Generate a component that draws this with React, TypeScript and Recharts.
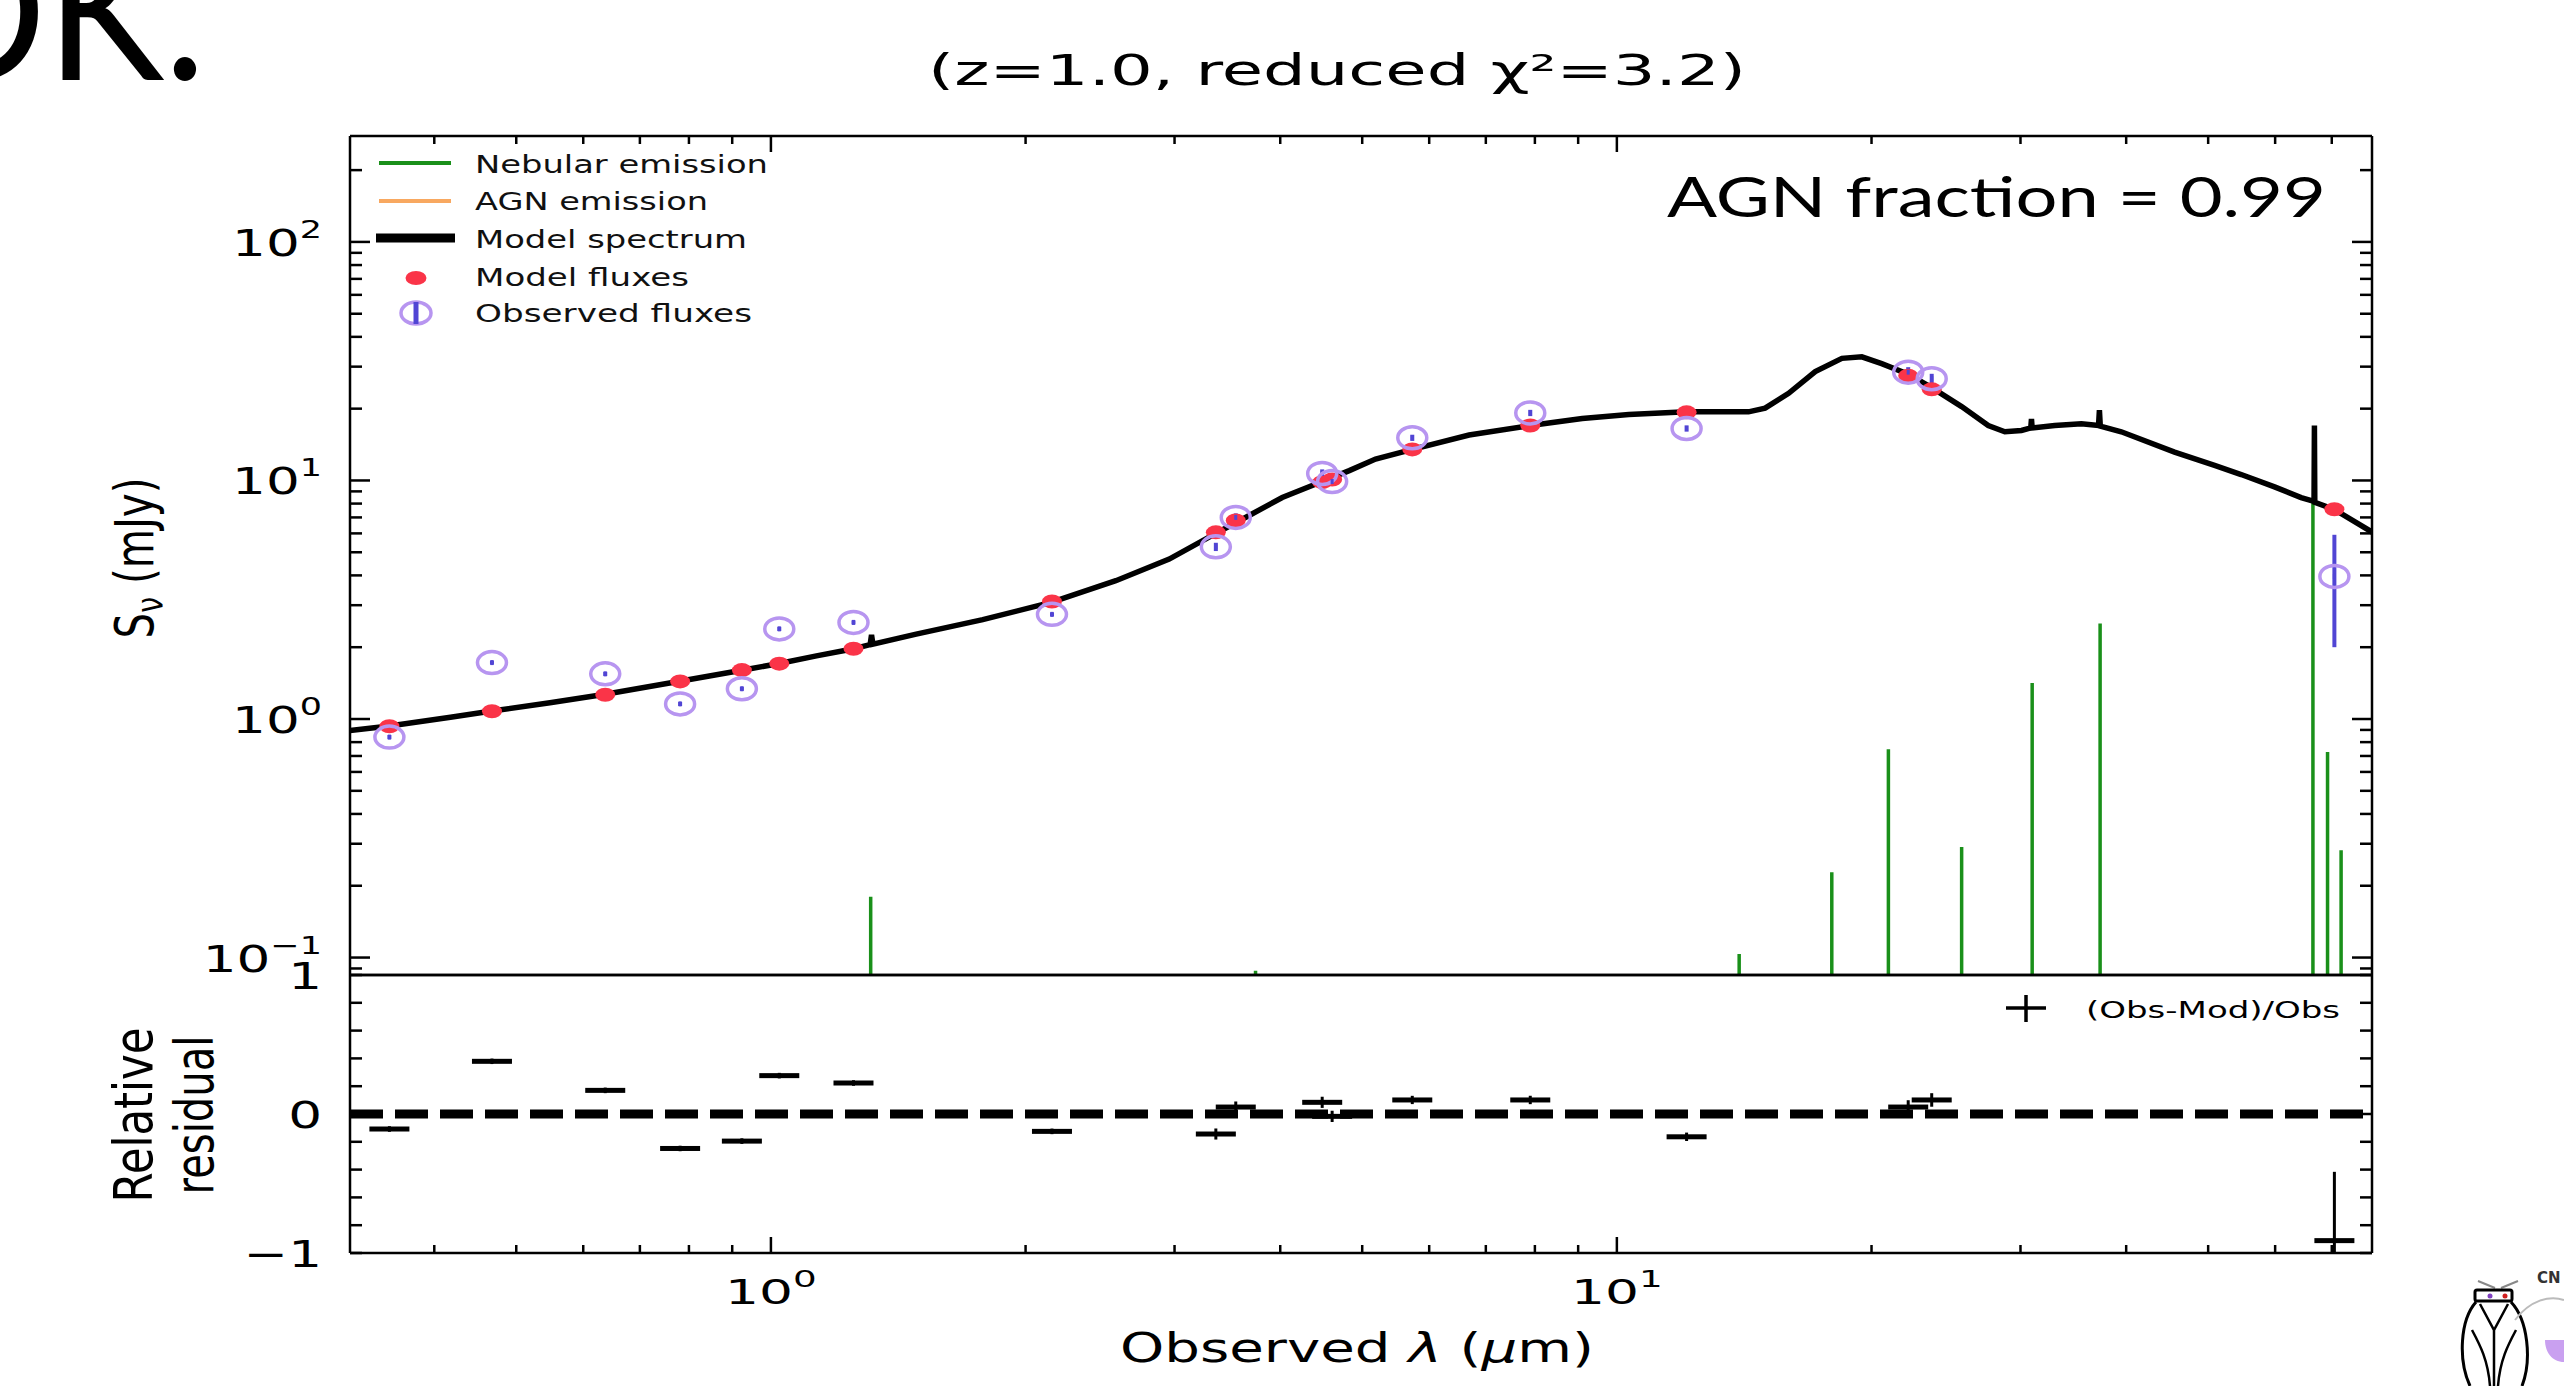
import React from "react";
import {
  ComposedChart,
  Line,
  Scatter,
  XAxis,
  YAxis,
  ErrorBar,
  ReferenceLine,
} from "recharts";

// photometric points (wavelength in micron, flux in mJy)
const obsLambda = [0.354, 0.468, 0.637, 0.781, 0.924, 1.023, 1.252, 2.149, 3.357, 3.544, 4.484, 4.607, 5.73, 7.9, 12.09, 22.1, 23.56, 70.5];
const obsFlux = [0.84, 1.724, 1.546, 1.157, 1.339, 2.387, 2.541, 2.746, 5.27, 7.0, 10.7, 9.9, 15.1, 19.19, 16.52, 28.45, 26.7, 3.96];
const obsErr = [0.017, 0.034, 0.031, 0.023, 0.027, 0.048, 0.051, 0.055, 0.21, 0.28, 0.43, 0.4, 0.45, 0.58, 0.5, 1.4, 1.3, 1.96];
const modelFlux = [0.932, 1.077, 1.264, 1.438, 1.603, 1.706, 1.971, 3.11, 6.06, 6.79, 9.84, 10.1, 13.5, 17.0, 19.3, 27.5, 24.1, 7.57];
const residual = [-0.108, 0.379, 0.17, -0.248, -0.195, 0.276, 0.223, -0.125, -0.144, 0.05, 0.084, -0.017, 0.101, 0.101, -0.164, 0.05, 0.101, -0.911];

// best fit model spectrum
const specLambda = [0.318, 0.354, 0.418, 0.468, 0.548, 0.637, 0.78, 0.924, 1.023, 1.132, 1.253, 1.31, 1.315, 1.32, 1.485, 1.78, 2.149, 2.557, 2.957, 3.357, 3.544, 4.022, 4.484, 4.827, 5.185, 5.733, 6.688, 7.902, 9.1, 10.33, 12.09, 14.31, 14.97, 15.96, 17.16, 18.45, 19.48, 20.56, 22.11, 23.56, 25.56, 27.48, 28.75, 30.08, 30.85, 30.91, 30.97, 32.93, 35.41, 37.1, 37.19, 37.28, 39.47, 45.63, 50.88, 54.7, 59.9, 64.4, 66.7, 66.77, 66.84, 70.47, 78.2];
const specFlux = [0.894, 0.935, 1.017, 1.08, 1.17, 1.27, 1.44, 1.6, 1.71, 1.84, 1.97, 2.05, 2.25, 2.06, 2.27, 2.61, 3.09, 3.8, 4.68, 6.0, 6.65, 8.48, 9.9, 11.0, 12.3, 13.5, 15.5, 17.0, 18.2, 18.9, 19.4, 19.4, 20.1, 23.2, 28.6, 32.5, 33.0, 30.9, 27.9, 24.5, 20.4, 17.0, 16.0, 16.2, 16.6, 18.1, 16.6, 17.0, 17.3, 17.0, 19.7, 16.9, 16.0, 13.15, 11.56, 10.59, 9.4, 8.48, 8.17, 17.0, 8.1, 7.56, 6.06];

// nebular emission lines (peak flux)
const nebLambda = [1.312, 3.74, 13.95, 17.95, 20.94, 25.56, 30.97, 37.26, 66.5, 69.2, 71.8];
const nebPeak = [0.18, 0.088, 0.1035, 0.228, 0.746, 0.291, 1.416, 2.513, 8.05, 0.727, 0.282];
const NEB_FLOOR = 0.01;

// axes
const xMajor = [1, 10];
const xMajorExp = ["0", "1"];
const xMinor = [0.4, 0.5, 0.6, 0.7, 0.8, 0.9, 2, 3, 4, 5, 6, 7, 8, 9, 20, 30, 40, 50, 60, 70];
const yMajor = [0.1, 1, 10, 100];
const yMajorExp = ["\u22121", "0", "1", "2"];
const yMinor = [0.09, 0.2, 0.3, 0.4, 0.5, 0.6, 0.7, 0.8, 0.9, 2, 3, 4, 5, 6, 7, 8, 9, 20, 30, 40, 50, 60, 70, 80, 90, 200];
const rTicks = [-1, -0.8, -0.6, -0.4, -0.2, 0, 0.2, 0.4, 0.6, 0.8, 1];
const rLabelled = [-1, 0, 1];
const rLabels = ["\u22121", "0", "1"];

const X_DOMAIN = [0.318, 78.1];
const Y_DOMAIN = [0.0845, 278];
const R_DOMAIN = [-1, 1];

const xTicks = [...xMinor, ...xMajor].sort((a, b) => a - b);
const yTicks = [...yMinor, ...yMajor].sort((a, b) => a - b);

const obsData = obsLambda.map((l, i) => ({ lambda: l, flux: obsFlux[i], err: obsErr[i] }));
const modelData = obsLambda.map((l, i) => ({ lambda: l, flux: modelFlux[i] }));
// error bars are cut at the panel edges, as in the original figure
const residData = obsLambda.map((l, i) => {
  const e = obsErr[i] / obsFlux[i];
  const r = residual[i];
  return {
    lambda: l,
    resid: r,
    rerr: [Math.min(e, r - R_DOMAIN[0]), Math.min(e, R_DOMAIN[1] - r)],
  };
});
const specData = specLambda.map((l, i) => ({ lambda: l, flux: specFlux[i] }));
const nebData = nebLambda.flatMap((l, i) => [
  { lambda: l, flux: NEB_FLOOR },
  { lambda: l, flux: nebPeak[i] },
  { lambda: l, flux: NEB_FLOOR },
]);

const FONT = "DejaVu Sans";
const AXW = 2.5;
const GREEN = "#1a901a";
const RED = "#fa3448";
const LAVENDER = "#b795f0";
const BLUE = "#5145d4";
const ORANGE = "#f8a860";

const XTickBottom = (p: any) => {
  const v = p.payload.value;
  const i = xMajor.indexOf(v);
  return (
    <g>
      <line x1={p.x} x2={p.x} y1={p.y} y2={p.y - (i >= 0 ? 16 : 8)} stroke="#000" strokeWidth={AXW} />
      {i >= 0 && (
        <g transform={`translate(${p.x},${p.y + 51}) scale(1.62,1)`}>
          <text textAnchor="middle" fontFamily={FONT} fontSize={33} fill="#000">
            10<tspan dy={-17} fontSize={23}>{xMajorExp[i]}</tspan>
          </text>
        </g>
      )}
    </g>
  );
};

const XTickTop = (p: any) => {
  const major = xMajor.includes(p.payload.value);
  return <line x1={p.x} x2={p.x} y1={p.y} y2={p.y + (major ? 16 : 8)} stroke="#000" strokeWidth={AXW} />;
};

const YTickLeft = (p: any) => {
  const v = p.payload.value;
  const i = yMajor.indexOf(v);
  return (
    <g>
      <line x1={p.x} x2={p.x + (i >= 0 ? 20 : 12)} y1={p.y} y2={p.y} stroke="#000" strokeWidth={AXW} />
      {i >= 0 && (
        <g transform={`translate(${p.x - 28},${p.y + 14}) scale(1.4,1)`}>
          <text textAnchor="end" fontFamily={FONT} fontSize={38} fill="#000">
            10<tspan dy={-18} fontSize={25}>{yMajorExp[i]}</tspan>
          </text>
        </g>
      )}
    </g>
  );
};

const YTickRight = (p: any) => {
  const major = yMajor.includes(p.payload.value);
  return <line x1={p.x} x2={p.x - (major ? 20 : 12)} y1={p.y} y2={p.y} stroke="#000" strokeWidth={AXW} />;
};

const RTickLeft = (p: any) => {
  const i = rLabelled.indexOf(p.payload.value);
  return (
    <g>
      <line x1={p.x} x2={p.x + 12} y1={p.y} y2={p.y} stroke="#000" strokeWidth={AXW} />
      {i >= 0 && (
        <g transform={`translate(${p.x - 28},${p.y + 14}) scale(1.4,1)`}>
          <text textAnchor="end" fontFamily={FONT} fontSize={38} fill="#000">
            {rLabels[i]}
          </text>
        </g>
      )}
    </g>
  );
};

const RTickRight = (p: any) => (
  <line x1={p.x} x2={p.x - 12} y1={p.y} y2={p.y} stroke="#000" strokeWidth={AXW} />
);

const ModelDot = (p: any) => <ellipse cx={p.cx} cy={p.cy} rx={10} ry={7} fill={RED} />;

const ObsRing = (p: any) => (
  <g>
    <ellipse cx={p.cx} cy={p.cy} rx={14.5} ry={11} fill="none" stroke={LAVENDER} strokeWidth={3.5} />
    <line x1={p.cx} x2={p.cx} y1={p.cy - 2.5} y2={p.cy + 2.5} stroke={BLUE} strokeWidth={3} />
  </g>
);

const ResidMark = (p: any) => <rect x={p.cx - 20} y={p.cy - 2.5} width={40} height={5} fill="#000" />;

const axisLine = { stroke: "#000", strokeWidth: AXW };

const Overlay = () => (
  <svg width={2564} height={1386} style={{ position: "absolute", left: 0, top: 0, pointerEvents: "none" }}>
    {/* slide text cut at the corner */}
    <text x={-96} y={80} fontFamily="Lato" fontSize={190} textLength={302} lengthAdjust="spacingAndGlyphs" fill="#000">
      OK.
    </text>
    <text x={1337} y={85} textAnchor="middle" fontFamily={FONT} fontSize={42} textLength={818} lengthAdjust="spacingAndGlyphs" fill="#000">
      (z=1.0, reduced χ²=3.2)
    </text>
    <text x={1667} y={217} fontFamily="Lato" fontSize={56} textLength={659} lengthAdjust="spacingAndGlyphs" fill="#000">
      AGN fraction = 0.99
    </text>

    {/* legend */}
    <line x1={379} x2={451} y1={163} y2={163} stroke={GREEN} strokeWidth={4} />
    <line x1={379} x2={451} y1={201} y2={201} stroke={ORANGE} strokeWidth={4} />
    <line x1={376} x2={455} y1={238} y2={238} stroke="#000" strokeWidth={9} />
    <ellipse cx={416} cy={278} rx={10.5} ry={7} fill={RED} />
    <ellipse cx={416} cy={313} rx={15} ry={11} fill="none" stroke={LAVENDER} strokeWidth={3.5} />
    <line x1={416} x2={416} y1={302} y2={324} stroke={BLUE} strokeWidth={5} />
    {[
      ["Nebular emission", 173, 293],
      ["AGN emission", 210, 233],
      ["Model spectrum", 248, 272],
      ["Model fluxes", 286, 214],
      ["Observed fluxes", 322, 277],
    ].map(([t, y, w]) => (
      <text key={t as string} x={475} y={y as number} fontFamily={FONT} fontSize={25} textLength={w as number} lengthAdjust="spacingAndGlyphs" fill="#111">
        {t}
      </text>
    ))}

    {/* axis titles */}
    <g transform="translate(153,558) scale(1.3,1) rotate(-90)">
      <text textAnchor="middle" fontFamily={FONT} fontSize={41} textLength={161} lengthAdjust="spacingAndGlyphs" fill="#000">
        S<tspan dy={8} fontSize={29}>ν</tspan>
        <tspan dy={-8}> (mJy)</tspan>
      </text>
    </g>
    <g transform="translate(152,1115) scale(1.3,1) rotate(-90)">
      <text textAnchor="middle" fontFamily={FONT} fontSize={41} textLength={175} lengthAdjust="spacingAndGlyphs" fill="#000">
        Relative
      </text>
    </g>
    <g transform="translate(213,1115) scale(1.3,1) rotate(-90)">
      <text textAnchor="middle" fontFamily={FONT} fontSize={41} textLength={159} lengthAdjust="spacingAndGlyphs" fill="#000">
        residual
      </text>
    </g>
    <text x={1357} y={1362} textAnchor="middle" fontFamily={FONT} fontSize={40} textLength={474} lengthAdjust="spacingAndGlyphs" fill="#000">
      Observed <tspan fontStyle="italic">λ</tspan> (<tspan fontStyle="italic">μ</tspan>m)
    </text>

    {/* residual legend */}
    <line x1={2006} x2={2046} y1={1008} y2={1008} stroke="#000" strokeWidth={3.5} />
    <line x1={2026} x2={2026} y1={995} y2={1022} stroke="#000" strokeWidth={3.5} />
    <text x={2086} y={1018} fontFamily={FONT} fontSize={23} textLength={254} lengthAdjust="spacingAndGlyphs" fill="#000">
      (Obs-Mod)/Obs
    </text>

    {/* logo fragment */}
    <g fill="none" stroke="#000" strokeWidth={3}>
      <line x1={2478} y1={1281} x2={2495} y2={1288} stroke="#888" strokeWidth={2} />
      <line x1={2501} y1={1288} x2={2518} y2={1281} stroke="#888" strokeWidth={2} />
      <rect x={2475} y={1290} width={37} height={11} rx={2} />
      <path d="M2476 1302 C2460 1320 2458 1360 2470 1386 M2511 1302 C2528 1320 2532 1360 2522 1386" />
      <path d="M2480 1304 L2494 1330 L2508 1304 M2494 1330 L2494 1386 M2472 1330 C2480 1345 2488 1360 2490 1386 M2516 1330 C2508 1345 2500 1360 2498 1386" strokeWidth={2.5} />
      <path d="M2515 1320 C2530 1300 2550 1295 2564 1300" stroke="#bbb" strokeWidth={2} />
    </g>
    <circle cx={2490} cy={1296} r={2.5} fill="#8040c0" />
    <circle cx={2505} cy={1296} r={2.5} fill="#d02020" />
    <path d="M2545 1340 L2564 1340 L2564 1362 C2552 1362 2545 1352 2545 1340 Z" fill="#c9a0f0" />
    <text x={2537} y={1283} fontFamily="DejaVu Sans" fontWeight="bold" fontSize={15} fill="#333">
      CN
    </text>
  </svg>
);

export default function App() {
  return (
    <div style={{ position: "absolute", left: 0, top: 0, width: 2564, height: 1386, background: "#fff", overflow: "hidden" }}>
      <div style={{ position: "absolute", left: 0, top: 0 }}>
        <ComposedChart width={2564} height={980} margin={{ top: 134, right: 190, bottom: 3, left: 0 }}>
          <XAxis
            xAxisId={0}
            dataKey="lambda"
            type="number"
            scale="log"
            domain={X_DOMAIN}
            allowDataOverflow
            orientation="bottom"
            height={2}
            tick={false}
            tickLine={false}
            axisLine={axisLine}
          />
          <XAxis
            xAxisId="top"
            dataKey="lambda"
            type="number"
            scale="log"
            domain={X_DOMAIN}
            allowDataOverflow
            orientation="top"
            height={2}
            ticks={xTicks}
            interval={0}
            tickSize={0}
            tickMargin={0}
            tickLine={false}
            tick={(p: any) => <XTickTop {...p} />}
            axisLine={axisLine}
          />
          <YAxis
            yAxisId={0}
            type="number"
            scale="log"
            domain={Y_DOMAIN}
            allowDataOverflow
            width={350}
            ticks={yTicks}
            interval={0}
            tickSize={0}
            tickMargin={0}
            tickLine={false}
            tick={(p: any) => <YTickLeft {...p} />}
            axisLine={axisLine}
          />
          <YAxis
            yAxisId="right"
            orientation="right"
            type="number"
            scale="log"
            domain={Y_DOMAIN}
            allowDataOverflow
            width={2}
            ticks={yTicks}
            interval={0}
            tickSize={0}
            tickMargin={0}
            tickLine={false}
            tick={(p: any) => <YTickRight {...p} />}
            axisLine={axisLine}
          />
          <Line
            data={nebData}
            dataKey="flux"
            type="linear"
            stroke={GREEN}
            strokeWidth={3.5}
            dot={false}
            activeDot={false}
            isAnimationActive={false}
          />
          <Line
            data={specData}
            dataKey="flux"
            type="linear"
            stroke="#000"
            strokeWidth={5.5}
            dot={false}
            activeDot={false}
            isAnimationActive={false}
          />
          <Scatter data={modelData} dataKey="flux" shape={ModelDot} isAnimationActive={false} />
          <Scatter data={obsData} dataKey="flux" shape={ObsRing} isAnimationActive={false}>
            <ErrorBar dataKey="err" direction="y" width={0} stroke={BLUE} strokeWidth={4} />
          </Scatter>
        </ComposedChart>
      </div>

      <div style={{ position: "absolute", left: 0, top: 960 }}>
        <ComposedChart width={2564} height={426} margin={{ top: 13, right: 190, bottom: 0, left: 0 }}>
          <XAxis
            xAxisId={0}
            dataKey="lambda"
            type="number"
            scale="log"
            domain={X_DOMAIN}
            allowDataOverflow
            orientation="bottom"
            height={133}
            ticks={xTicks}
            interval={0}
            tickSize={0}
            tickMargin={0}
            tickLine={false}
            tick={(p: any) => <XTickBottom {...p} />}
            axisLine={axisLine}
          />
          <XAxis
            xAxisId="top"
            dataKey="lambda"
            type="number"
            scale="log"
            domain={X_DOMAIN}
            allowDataOverflow
            orientation="top"
            height={2}
            tick={false}
            tickLine={false}
            axisLine={axisLine}
          />
          <YAxis
            yAxisId={0}
            type="number"
            domain={R_DOMAIN}
            allowDataOverflow
            width={350}
            ticks={rTicks}
            interval={0}
            tickSize={0}
            tickMargin={0}
            tickLine={false}
            tick={(p: any) => <RTickLeft {...p} />}
            axisLine={axisLine}
          />
          <YAxis
            yAxisId="right"
            orientation="right"
            type="number"
            domain={R_DOMAIN}
            allowDataOverflow
            width={2}
            ticks={rTicks}
            interval={0}
            tickSize={0}
            tickMargin={0}
            tickLine={false}
            tick={(p: any) => <RTickRight {...p} />}
            axisLine={axisLine}
          />
          <ReferenceLine y={0} stroke="#000" strokeWidth={9} strokeDasharray="33 12" />
          <Scatter data={residData} dataKey="resid" shape={ResidMark} isAnimationActive={false}>
            <ErrorBar dataKey="rerr" direction="y" width={0} stroke="#000" strokeWidth={3} />
          </Scatter>
        </ComposedChart>
      </div>

      <Overlay />
    </div>
  );
}
